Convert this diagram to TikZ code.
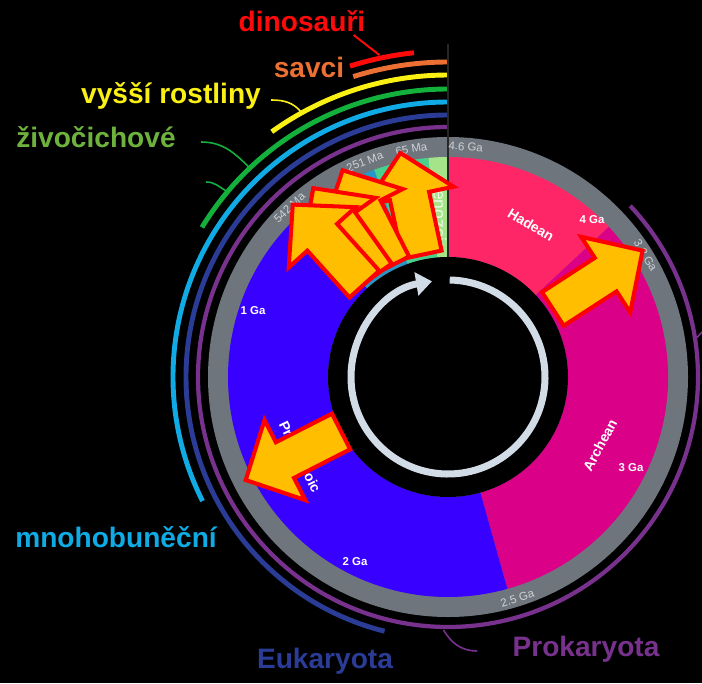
\documentclass[tikz,border=0pt]{standalone}
\usepackage{fontspec}
\setmainfont{Liberation Sans}
\usetikzlibrary{arrows.meta}
\definecolor{ringgray}{RGB}{110,117,125}
\definecolor{hadeancol}{RGB}{255,38,104}
\definecolor{archeancol}{RGB}{218,0,136}
\definecolor{proterocol}{RGB}{56,0,255}
\definecolor{paleocol}{RGB}{40,150,200}
\definecolor{mesocol}{RGB}{72,208,140}
\definecolor{cenocol}{RGB}{166,228,138}
\definecolor{cenotext}{RGB}{235,250,225}
\definecolor{dinocol}{RGB}{255,10,10}
\definecolor{savcicol}{RGB}{236,112,52}
\definecolor{plantcol}{RGB}{250,240,20}
\definecolor{animalcol}{RGB}{20,176,60}
\definecolor{animaltext}{RGB}{110,178,62}
\definecolor{multicol}{RGB}{16,170,228}
\definecolor{eukacol}{RGB}{42,60,150}
\definecolor{prokacol}{RGB}{120,50,142}
\definecolor{arrowfill}{RGB}{255,190,0}
\definecolor{clockcol}{RGB}{210,220,230}
\definecolor{datecol}{RGB}{205,210,215}
\newcommand{\eonsector}[3]{%
  \fill[#3] (#1:120) arc[start angle=#1,end angle=#2,radius=120]
    -- (#2:220) arc[start angle=#2,end angle=#1,radius=220] -- cycle;}
\newcommand{\blockarrow}[3]{%
  \draw[blockarr,rotate=#1] (#2,-20) -- (#3-44,-20) -- (#3-44,-45) -- (#3,0)
    -- (#3-44,45) -- (#3-44,20) -- (#2,20) -- cycle;}

\begin{document}
\begin{tikzpicture}[x=0.02cm,y=0.02cm,
    lifeline/.style={line width=2.8pt},
    leader/.style={line width=0.9pt},
    blockarr/.style={fill=arrowfill,draw=red,line width=2.3pt},
    biglabel/.style={font=\fontsize{16}{18}\selectfont\bfseries,inner sep=0pt},
    datelabel/.style={font=\fontsize{6.5}{7}\selectfont,text=datecol,inner sep=0pt},
    galabel/.style={font=\fontsize{6.5}{7}\selectfont\bfseries,text=white,inner sep=0pt},
    eonlabel/.style={font=\fontsize{8}{9}\selectfont\bfseries,text=white,inner sep=0pt}]
        % background
        \useasboundingbox (-448,-306) rectangle (254,377);
        \fill[black] (-448,-306) rectangle (254,377);
        % life arcs
        \draw[lifeline,dinocol] (96:326) arc[start angle=96,end angle=107.5,radius=326];
        \draw[lifeline,savcicol] (90:315) arc[start angle=90,end angle=107.5,radius=315];
        \draw[lifeline,plantcol] (90:302) arc[start angle=90,end angle=125.7,radius=302];
        \draw[lifeline,animalcol] (90:288) arc[start angle=90,end angle=148.7,radius=288];
        \draw[lifeline,multicol] (90:275) arc[start angle=90,end angle=206.8,radius=275];
        \draw[lifeline,eukacol] (90:262) arc[start angle=90,end angle=256,radius=262];
        \draw[line width=2.4pt,prokacol] (43.2:250) arc[start angle=43.2,end angle=-270,radius=250];
        % eons
        \fill[ringgray] (0,0) circle[radius=240];
        \eonsector{90}{43.04}{hadeancol}
        \eonsector{43.04}{-74.35}{archeancol}
        \eonsector{-74.35}{-227.6}{proterocol}
        \eonsector{132.4}{109.6}{paleocol}
        \eonsector{109.6}{95.1}{mesocol}
        \eonsector{95.1}{90}{cenocol}
        \fill[black] (0,0) circle[radius=120];
        \draw[line width=1.1pt,black!85] (90:120) -- (90:333);
        % dates
        \node[datelabel,rotate=-4.4] (t46) at (85.6:231) {4.6 Ga};
        \node[datelabel,rotate=9.1] (t65) at (99.1:231) {65 Ma};
        \node[datelabel,rotate=21.1] (t251) at (111.1:231) {251 Ma};
        \node[datelabel,rotate=43.1] (t542) at (133.1:232) {542 Ma};
        \node[datelabel,rotate=-58.4] (t38) at (31.6:232) {3.8 Ga};
        \node[datelabel,rotate=17.4] (t25) at (-72.6:232) {2.5 Ga};
        \node[galabel] (g4) at (144,157) {4 Ga};
        \node[galabel] (g3) at (183,-91) {3 Ga};
        \node[galabel] (g2) at (-93,-185) {2 Ga};
        \node[galabel] (g1) at (-195,66) {1 Ga};
        \node[eonlabel,rotate=-31] (hadean) at (83,152) {Hadean};
        \node[eonlabel,rotate=61.5] (archean) at (152,-68) {Archean};
        \node[eonlabel,rotate=-64] (protero) at (-148,-80) {Proterozoic};
        \node[eonlabel,rotate=-90,text=cenotext,font=\fontsize{10}{11}\selectfont] (ceno) at (-8,163) {Cenozoic};
        % clock arrow
        \draw[clockcol,line width=4pt,-{Triangle[length=9pt,width=13pt]}] (89:97) arc[start angle=89,end angle=-260.5,radius=97];
        % big arrows
        \blockarrow{33}{125}{232}
        \blockarrow{207}{120}{227}
        \blockarrow{102}{125}{229}
        \blockarrow{117}{125}{232}
        \blockarrow{125.5}{125}{232}
        \blockarrow{132}{125}{232}
        % labels
        \node[biglabel,text=dinocol] (dino) at (-146,356) {dinosauři};
        \node[biglabel,text=savcicol] (savci) at (-139,310) {savci};
        \node[biglabel,text=plantcol] (vyssi) at (-277,281) {vyšší rostliny};
        \node[biglabel,text=animaltext] (zivo) at (-352,240) {živočichové};
        \node[biglabel,text=multicol] (mnoho) at (-332,-160) {mnohobuněční};
        \node[biglabel,text=eukacol] (euka) at (-123,-284) {Eukaryota};
        \node[biglabel,text=prokacol] (proka) at (138,-272) {Prokaryota};
        % leaders
        \coordinate (dinoend) at (102:329);
        \coordinate (plantend) at (119:303);
        \coordinate (animalendA) at (133.5:290);
        \coordinate (animalendB) at (140:289);
        \coordinate (prokaend) at (269:253);
        \coordinate (prokatick) at (9:252);
        \coordinate (tickout) at (256,47);
        \draw[dinocol,line width=1.1pt] ([shift={(-12,-3)}]dino.south east) -- (dinoend);
        \draw[plantcol,leader] ([shift={(10,-4)}]vyssi.east) to[out=0,in=130] (plantend);
        \draw[animalcol,leader] ([shift={(25,-5)}]zivo.east) to[out=0,in=135] (animalendA);
        \draw[animalcol,leader] ([shift={(30,-45)}]zivo.east) to[out=0,in=150] (animalendB);
        \draw[prokacol,leader] (prokaend) to[out=-60,in=180] ([shift={(-35,-2)}]proka.west);
        \draw[prokacol,leader] (prokatick) -- (tickout);
      \end{tikzpicture}
\end{document}
